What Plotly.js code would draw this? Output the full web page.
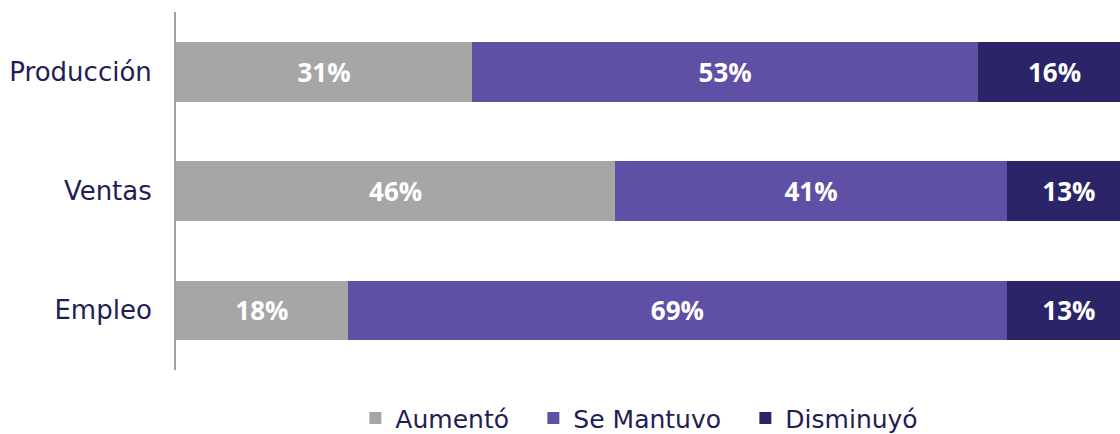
<!DOCTYPE html>
<html>
<head>
<meta charset="utf-8">
<script src="https://cdn.plot.ly/plotly-3.0.1.min.js"></script>
<style>
  html, body { margin: 0; padding: 0; background: #ffffff; }
  #plot { width: 1120px; height: 434px; }
</style>
</head>
<body>
<div id="plot"></div>
<script>
const categories = ["Producción", "Ventas", "Empleo"];

const aumento = [31, 46, 18];
const seMantuvo = [53, 41, 69];
const disminuyo = [16, 13, 13];

const seriesNames = ["Aumentó", "Se Mantuvo", "Disminuyó"];
const seriesColors = ["#a6a6a6", "#6050a5", "#2b2468"];
// width of each legend entry's text slot, px
const legendSlots = [133, 167, 130];

const plot = document.getElementById("plot");

function makeTrace(values, idx) {
  return {
    type: "bar",
    orientation: "h",
    name: seriesNames[idx],
    x: values,
    y: categories,
    legendwidth: legendSlots[idx],
    marker: { color: seriesColors[idx], line: { width: 0 } },
    texttemplate: "%{x}%",
    textposition: "inside",
    insidetextanchor: "middle",
    textfont: { family: "Open Sans, sans-serif", size: 26, color: "#ffffff", weight: "bold" },
    hoverinfo: "skip"
  };
}

Plotly.newPlot(
  plot,
  [makeTrace(aumento, 0), makeTrace(seMantuvo, 1), makeTrace(disminuyo, 2)],
  {
    barmode: "stack",
    bargap: 0.5,
    width: 1120,
    height: 434,
    margin: { l: 176, r: 0, t: 12, b: 64, autoexpand: false },
    paper_bgcolor: "#ffffff",
    plot_bgcolor: "#ffffff",
    showlegend: true,
    legend: {
      orientation: "h",
      traceorder: "normal",
      x: 0.19,
      xanchor: "left",
      y: -0.135,
      yanchor: "middle",
      font: { family: "DejaVu Sans, sans-serif", size: 25, color: "#231d55" },
      itemclick: false
    },
    xaxis: {
      range: [0, 98.85],
      showgrid: false,
      zeroline: false,
      showticklabels: false,
      showline: false,
      fixedrange: true
    },
    yaxis: {
      autorange: "reversed",
      showgrid: false,
      zeroline: false,
      showline: true,
      linecolor: "#a0a0a0",
      linewidth: 2,
      ticks: "",
      ticklabelstandoff: 17,
      tickfont: { family: "DejaVu Sans, sans-serif", size: 26, color: "#231d55" },
      fixedrange: true
    }
  },
  { displayModeBar: false, staticPlot: true }
);
</script>
</body>
</html>
